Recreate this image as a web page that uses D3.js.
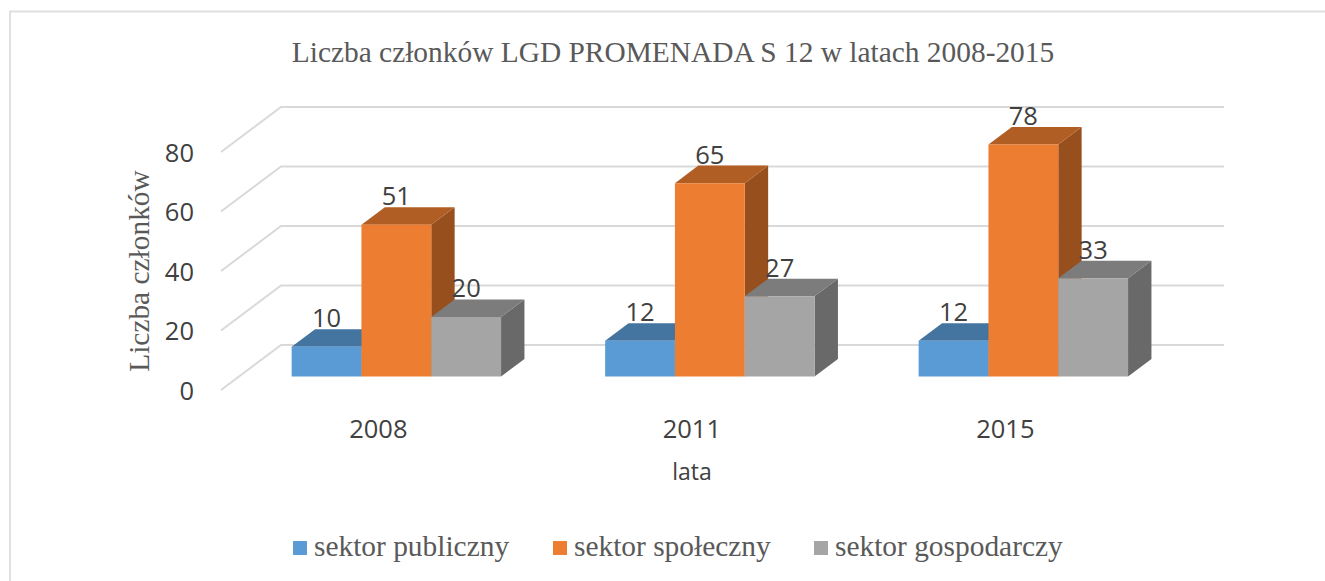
<!DOCTYPE html>
<html>
  <head>
    <meta charset="utf-8">
    <script src="https://d3js.org/d3.v7.min.js"></script>
    <style>
      body { margin: 0; background: #fff; }
      svg { display: block; }
      .serif { font-family: "Liberation Serif", serif; fill: #595959; }
      .sans { font-family: "Open Sans", sans-serif; fill: #404040; }
    </style>
  </head>
  <body>
    <div id="chart"></div>
    <script>
      const years = ["2008", "2011", "2015"];
      const seriesNames = ["sektor publiczny", "sektor społeczny", "sektor gospodarczy"];
      const publiczny = [10, 12, 12];
      const spoleczny = [51, 65, 78];
      const gospodarczy = [20, 27, 33];
      const yTicks = [0, 20, 40, 60, 80];

      const seriesValues = [publiczny, spoleczny, gospodarczy];
      const frontColors = ["#5b9bd5", "#ed7d31", "#a5a5a5"];
      const topColors = ["#4475a0", "#b15e25", "#7c7c7c"];
      const sideColors = ["#3d6a91", "#984f1e", "#696969"];

      const width = 1325, height = 581;

      const svg = d3.select("#chart")
        .append("svg")
          .attr("width", width)
          .attr("height", height);

      // chart frame, only top and left show in the picture
      svg.append("path")
        .attr("d", d3.line()([[1325, 11.5], [10, 11.5], [10, 581]]))
        .attr("fill", "none")
        .attr("stroke", "#e0e0e0")
        .attr("stroke-width", 2);

      // front plane of the floor, the depth shifts points up and right
      const x = d3.scaleBand().domain(years).range([221.6, 1162.1]);
      const y = d3.scaleLinear().domain([0, 80]).range([390, 152]);
      const depthX = d3.scaleLinear().domain([0, 1]).range([0, 60]);
      const depthY = d3.scaleLinear().domain([0, 1]).range([0, -45]);
      const barNear = 0.3, barFar = 0.69;

      const barWidth = 69.8;
      const xSeries = d3.scaleBand()
        .domain(d3.range(seriesNames.length))
        .range([x.bandwidth() / 2 - barWidth * 1.5, x.bandwidth() / 2 + barWidth * 1.5]);

      function pt(px, value, depth) {
        return [px + depthX(depth), y(value) + depthY(depth)];
      }
      const poly = d3.line();

      // gridlines on the side wall and back wall
      svg.append("g").selectAll("path")
        .data(yTicks)
        .join("path")
          .attr("d", d => poly([pt(221, d, 0), pt(221, d, 1), pt(1164, d, 1)]))
          .attr("fill", "none")
          .attr("stroke", "#d9d9d9")
          .attr("stroke-width", 2);

      // bars, painted left to right so the later ones overlap
      years.forEach((year, i) => {
        seriesNames.forEach((name, s) => {
          const v = seriesValues[s][i];
          const x0 = x(year) + xSeries(s);
          const x1 = x0 + xSeries.bandwidth();
          const g = svg.append("g");

          g.append("path")
            .attr("fill", sideColors[s])
            .attr("d", poly([pt(x1, 0, barNear), pt(x1, 0, barFar), pt(x1, v, barFar), pt(x1, v, barNear)]) + "Z");
          g.append("path")
            .attr("fill", topColors[s])
            .attr("d", poly([pt(x0, v, barNear), pt(x0, v, barFar), pt(x1, v, barFar), pt(x1, v, barNear)]) + "Z");
          g.append("path")
            .attr("fill", frontColors[s])
            .attr("d", poly([pt(x0, 0, barNear), pt(x1, 0, barNear), pt(x1, v, barNear), pt(x0, v, barNear)]) + "Z");
        });
      });

      // value labels go on top so the neighbouring bars do not hide them
      years.forEach((year, i) => {
        seriesNames.forEach((name, s) => {
          const v = seriesValues[s][i];
          const cx = x(year) + xSeries(s) + xSeries.bandwidth() / 2;
          svg.append("text")
            .attr("class", "sans")
            .attr("x", pt(cx, v, barNear)[0])
            .attr("y", pt(cx, v, barFar)[1] - 2)
            .attr("text-anchor", "middle")
            .attr("font-size", 25.5)
            .text(v);
        });
      });

      const axisLeft = svg.append("g")
        .attr("transform", "translate(200,1)")
        .call(d3.axisLeft(y).tickValues(yTicks).tickSize(0).tickPadding(6));
      axisLeft.select(".domain").remove();
      axisLeft.selectAll("text")
        .attr("class", "sans")
        .attr("font-size", 25.5)
        .attr("font-family", null);

      const axisBottom = svg.append("g")
        .attr("transform", "translate(0,420)")
        .call(d3.axisBottom(x).tickSize(0).tickPadding(0));
      axisBottom.select(".domain").remove();
      axisBottom.selectAll("text")
        .attr("class", "sans")
        .attr("font-size", 25.5)
        .attr("font-family", null);

      svg.append("text")
        .attr("class", "serif")
        .attr("x", 673)
        .attr("y", 62)
        .attr("text-anchor", "middle")
        .attr("font-size", 29.4)
        .text("Liczba członków LGD PROMENADA S 12 w latach 2008-2015");

      svg.append("text")
        .attr("class", "serif")
        .attr("transform", "translate(149,271) rotate(-90)")
        .attr("text-anchor", "middle")
        .attr("font-size", 29.4)
        .text("Liczba członków");

      svg.append("text")
        .attr("class", "sans")
        .attr("x", 692)
        .attr("y", 480)
        .attr("text-anchor", "middle")
        .attr("font-size", 23)
        .text("lata");

      const legendX = [293, 553, 814];
      const legend = svg.append("g").selectAll("g")
        .data(seriesNames)
        .join("g")
          .attr("transform", (d, i) => "translate(" + legendX[i] + ",541)");
      legend.append("rect")
        .attr("width", 14)
        .attr("height", 14)
        .attr("fill", (d, i) => frontColors[i]);
      legend.append("text")
        .attr("class", "serif")
        .attr("x", 21)
        .attr("y", 15)
        .attr("font-size", 29.4)
        .text(d => d);
    </script>
  </body>
</html>
